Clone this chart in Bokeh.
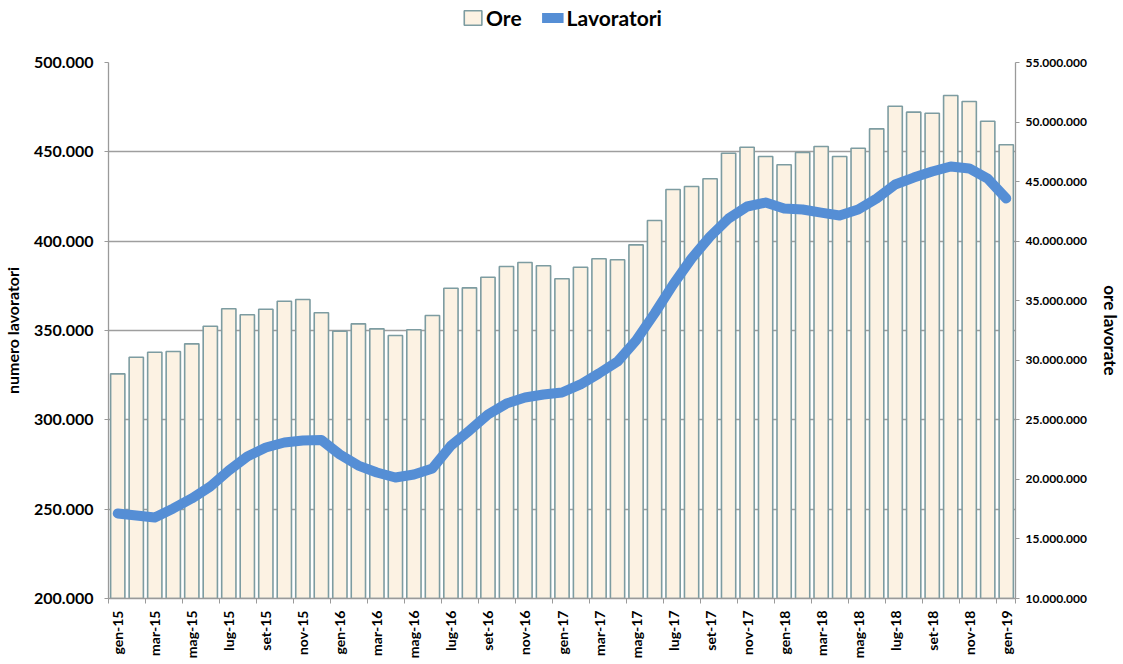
from bokeh.plotting import figure
from bokeh.layouts import column
from bokeh.models import (ColumnDataSource, Range1d, LinearAxis, FixedTicker,
                          Legend, LegendItem)
from bokeh.embed import file_html
from bokeh.resources import INLINE

# ---------------- data ----------------
mesi = ["gen", "feb", "mar", "apr", "mag", "giu", "lug", "ago", "set", "ott", "nov", "dic"]
periodi = [f"{m}-{a}" for a in ["15", "16", "17", "18"] for m in mesi] + ["gen-19"]

ore = [28.86e6, 30.26e6, 30.68e6, 30.74e6, 31.38e6, 32.86e6, 34.32e6, 33.82e6, 34.29e6, 34.96e6, 35.10e6, 33.99e6,
       32.44e6, 33.06e6, 32.64e6, 32.08e6, 32.56e6, 33.76e6, 36.05e6, 36.08e6, 36.97e6, 37.87e6, 38.21e6, 37.93e6,
       36.84e6, 37.81e6, 38.52e6, 38.44e6, 39.69e6, 41.73e6, 44.34e6, 44.59e6, 45.24e6, 47.38e6, 47.89e6, 47.11e6,
       46.41e6, 47.44e6, 47.95e6, 47.11e6, 47.80e6, 49.43e6, 51.33e6, 50.83e6, 50.74e6, 52.23e6, 51.73e6, 50.07e6,
       48.09e6]

lavoratori = [247600, 246500, 245300, 250400, 256000, 262700, 271600, 279500, 284500, 287300, 288400, 288700,
              280600, 274400, 270500, 267700, 269400, 272800, 285600, 294000, 303000, 309100, 312500, 314200,
              315300, 319800, 326000, 332600, 344400, 359500, 375700, 390300, 402600, 412700, 419400, 421600,
              418300, 417700, 416000, 414400, 417700, 423900, 431700, 435600, 439000, 441800, 440700, 435000,
              423900]

left_ticks = [200000, 250000, 300000, 350000, 400000, 450000, 500000]
right_ticks = [10e6, 15e6, 20e6, 25e6, 30e6, 35e6, 40e6, 45e6, 50e6, 55e6]


def it_fmt(v):
    return f"{int(round(v)):,}".replace(",", ".")


x = list(range(len(periodi)))
src = ColumnDataSource(dict(x=x, ore=ore, lav=lavoratori, label=periodi))

FONT = "Lato"
W = 1123
LEG_H = 34
BAR_FILL = "#FCF2E3"
BAR_LINE = "#7D9CA1"
LINE_COL = "#558ED5"
AXIS_COL = "#9A9A9A"

p = figure(width=W, height=664 - LEG_H, output_backend="svg", toolbar_location=None,
           x_range=Range1d(-0.5, len(periodi) - 0.5),
           y_range=Range1d(left_ticks[0], left_ticks[-1]),
           min_border_left=105, min_border_right=102, min_border_top=62 - LEG_H, min_border_bottom=66)
p.outline_line_color = None
p.background_fill_color = "white"
p.border_fill_color = "white"

p.extra_y_ranges = {"ore": Range1d(right_ticks[0], right_ticks[-1])}

# grid
p.xgrid.visible = False
p.ygrid.ticker = FixedTicker(ticks=left_ticks)
p.ygrid.grid_line_color = "#9E9E9E"
p.ygrid.grid_line_width = 1.3

# bars (ore)
bars = p.vbar(x="x", top="ore", bottom=right_ticks[0], width=0.77, source=src, y_range_name="ore",
              fill_color=BAR_FILL, line_color=BAR_LINE, line_width=1.6)

# line (lavoratori)
line = p.line(x="x", y="lav", source=src, line_color=LINE_COL, line_width=10,
              line_join="round", line_cap="round")

# x axis
xax = p.xaxis[0]
even = [i for i in x if i % 2 == 0]
xax.ticker = FixedTicker(ticks=even, minor_ticks=[i - 0.5 for i in even] + [len(periodi) - 0.5])
xax.major_label_overrides = {i: periodi[i] for i in even}
xax.major_label_orientation = 1.5708
xax.major_label_text_font = FONT
xax.major_label_text_font_style = "bold"
xax.major_label_text_font_size = "14px"
xax.major_label_text_color = "black"
xax.major_tick_line_color = None
xax.major_tick_out = 0
xax.major_tick_in = 0
xax.minor_tick_line_color = AXIS_COL
xax.minor_tick_out = 5
xax.minor_tick_in = 0
xax.axis_line_color = AXIS_COL
xax.axis_line_width = 1.3
xax.major_label_standoff = 7

# left axis
yax = p.yaxis[0]
yax.ticker = FixedTicker(ticks=left_ticks)
yax.major_label_overrides = {t: it_fmt(t) for t in left_ticks}
yax.axis_label = "numero lavoratori"
yax.axis_label_text_font = FONT
yax.axis_label_text_font_style = "bold"
yax.axis_label_text_font_size = "16px"
yax.axis_label_text_color = "black"
yax.axis_label_standoff = 9
yax.major_label_text_font = FONT
yax.major_label_text_font_style = "bold"
yax.major_label_text_font_size = "16px"
yax.major_label_text_color = "black"
yax.major_tick_out = 4
yax.major_tick_in = 0
yax.major_tick_line_color = AXIS_COL
yax.minor_tick_line_color = None
yax.axis_line_color = AXIS_COL
yax.axis_line_width = 1.3
yax.major_label_standoff = 11

# right axis
rax = LinearAxis(y_range_name="ore")
rax.ticker = FixedTicker(ticks=right_ticks)
rax.major_label_overrides = {t: it_fmt(t) for t in right_ticks}
rax.axis_label = "ore lavorate"
rax.axis_label_text_font = FONT
rax.axis_label_text_font_style = "bold"
rax.axis_label_text_font_size = "17px"
rax.axis_label_text_color = "black"
rax.axis_label_standoff = 10
rax.major_label_text_font = FONT
rax.major_label_text_font_style = "bold"
rax.major_label_text_font_size = "12px"
rax.major_label_text_color = "black"
rax.major_tick_out = 4
rax.major_tick_in = 0
rax.major_tick_line_color = AXIS_COL
rax.minor_tick_line_color = None
rax.axis_line_color = AXIS_COL
rax.axis_line_width = 1.3
rax.major_label_standoff = 6
p.add_layout(rax, "right")

# ---- legend strip on top: hidden renderers of the same data, only their legend glyphs are drawn ----
leg = figure(width=W, height=LEG_H, output_backend="svg", toolbar_location=None,
             x_range=Range1d(0, 1), y_range=Range1d(0, 1),
             min_border_left=0, min_border_right=0, min_border_top=0, min_border_bottom=0)
leg.axis.visible = False
leg.grid.visible = False
leg.outline_line_color = None
lb = leg.vbar(x="x", top="ore", width=0.77, source=src,
              fill_color=BAR_FILL, line_color=BAR_LINE, line_width=1.6)
ll = leg.line(x="x", y="lav", source=src, line_color=LINE_COL, line_width=10)
lb.visible = False
ll.visible = False
legend = Legend(items=[LegendItem(label="Ore", renderers=[lb]),
                       LegendItem(label="Lavoratori", renderers=[ll])],
                orientation="horizontal", location="center",
                label_text_font=FONT, label_text_font_style="bold", label_text_font_size="21px",
                label_text_color="black",
                inactive_fill_alpha=0,
                border_line_color=None, background_fill_alpha=0,
                glyph_width=22, glyph_height=18, spacing=20, label_standoff=3,
                padding=2, margin=0)
leg.add_layout(legend, "center")

layout = column(leg, p, spacing=0)
open("out.html", "w").write(file_html(layout, INLINE))
